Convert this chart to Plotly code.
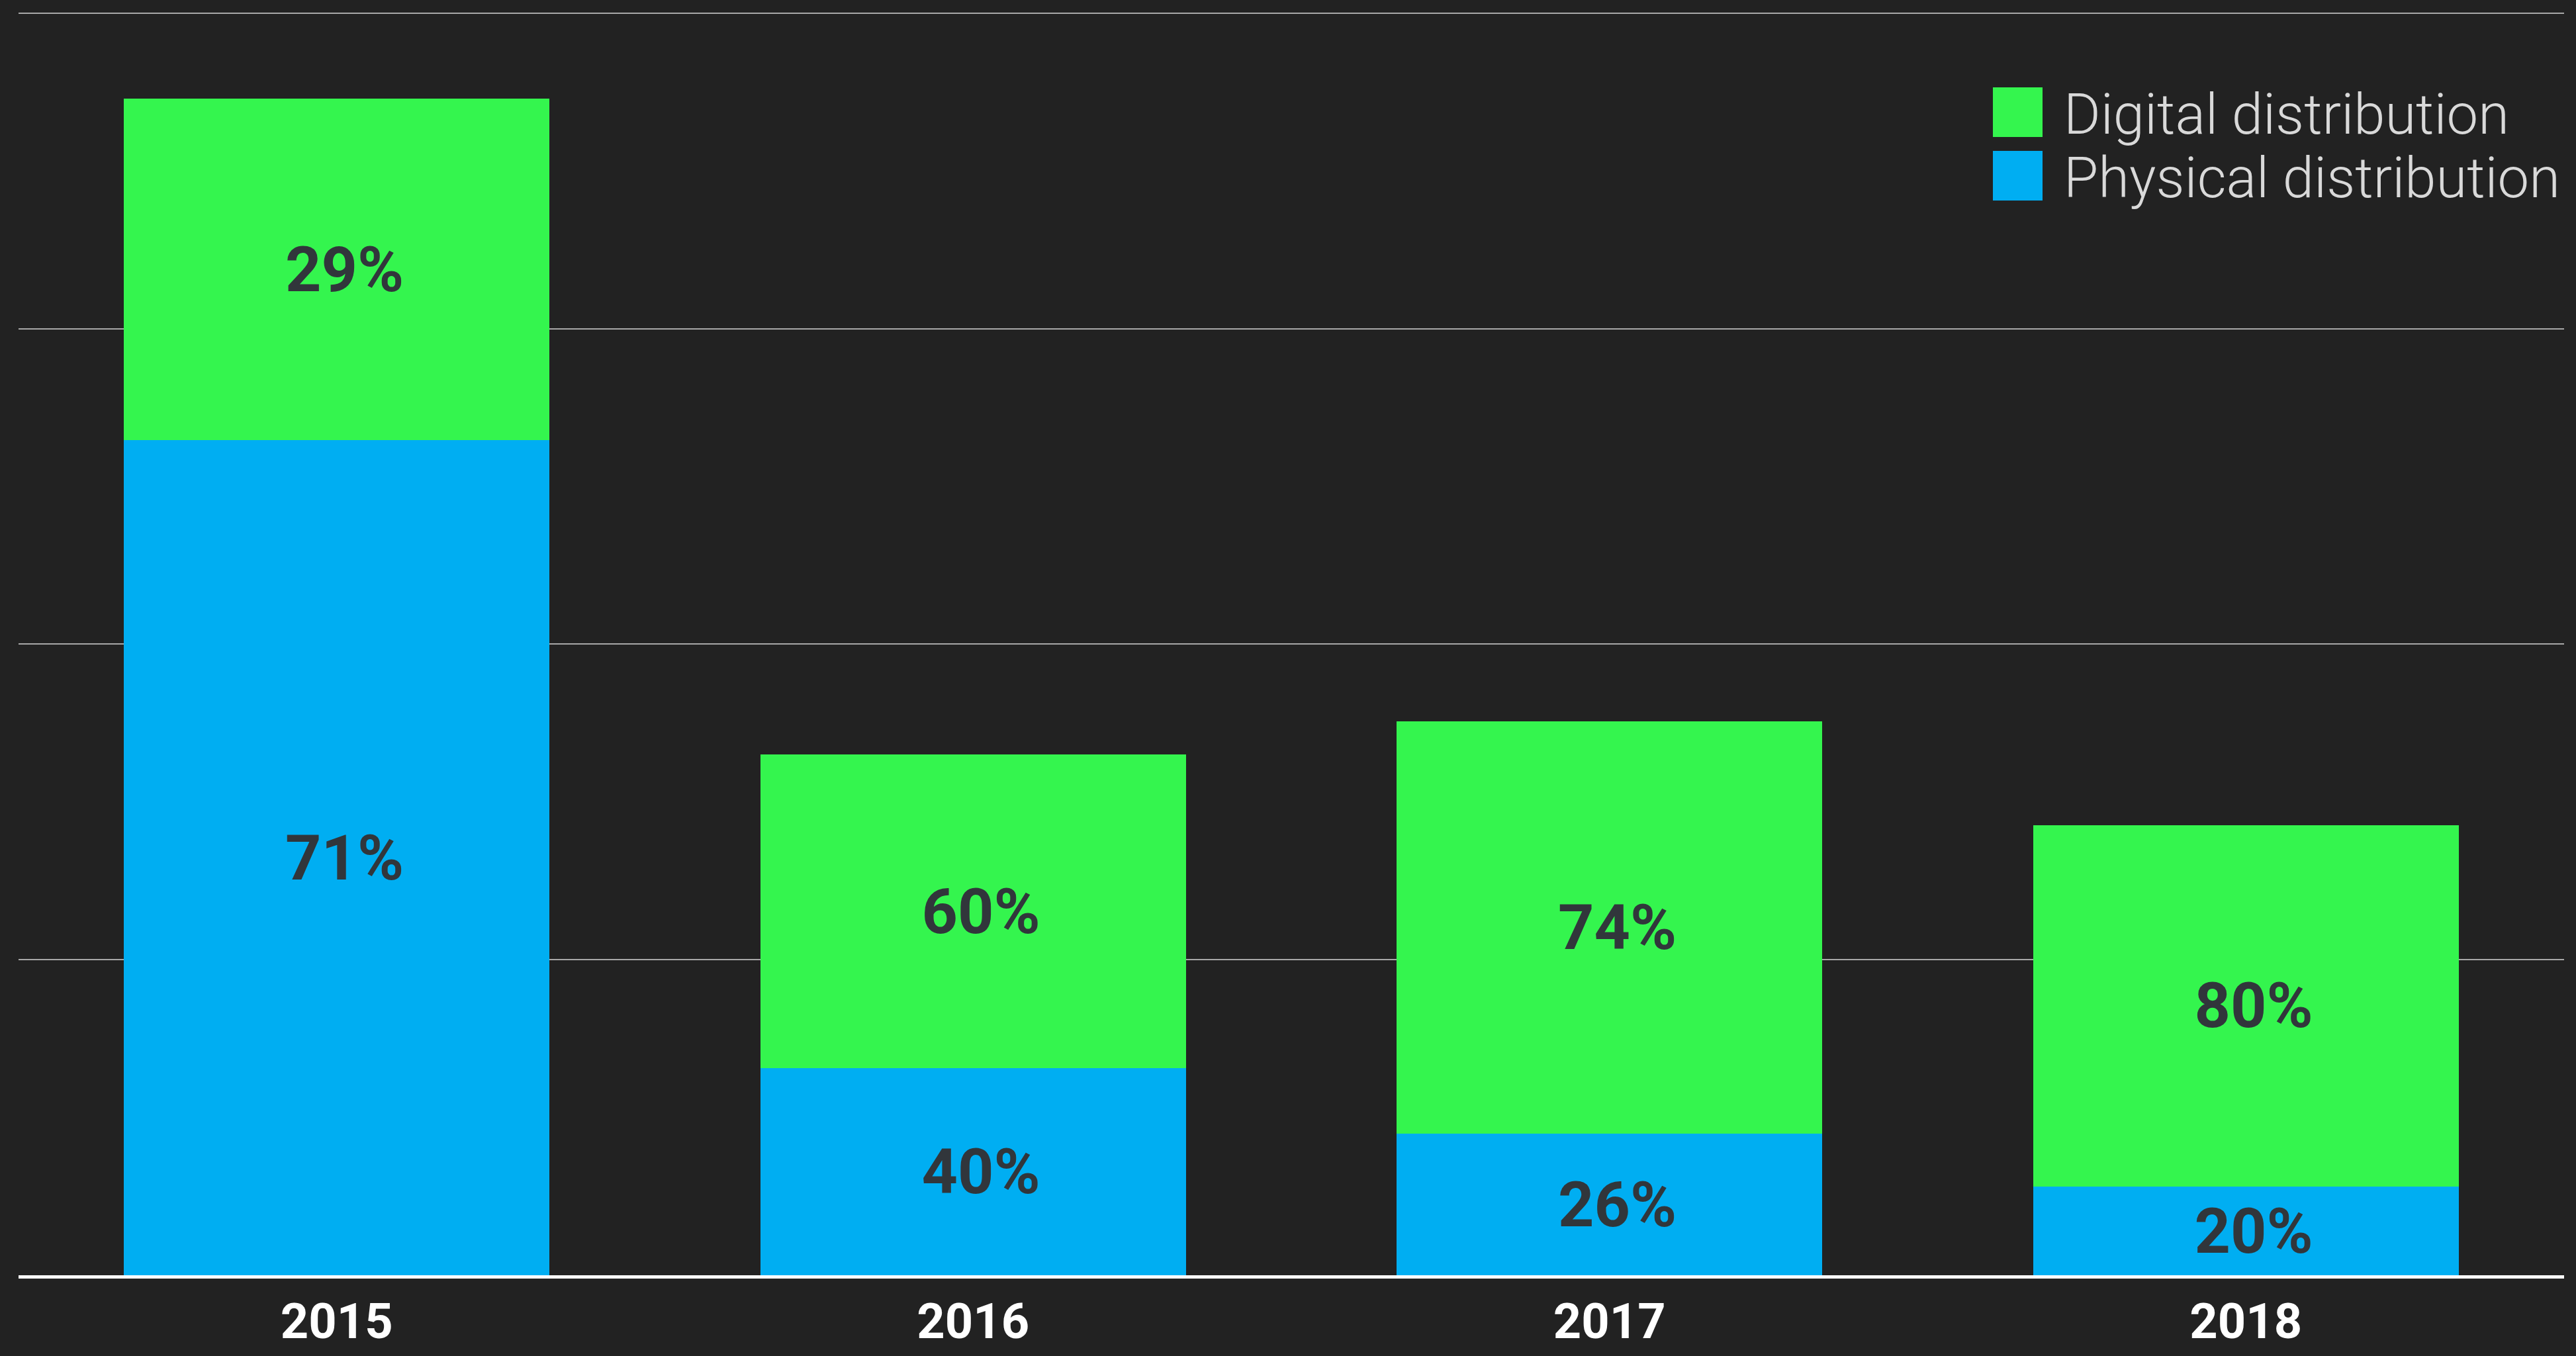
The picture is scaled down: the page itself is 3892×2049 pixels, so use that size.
import plotly.graph_objects as go

years = ["2015", "2016", "2017", "2018"]
physical_values = [2.646, 0.656, 0.448, 0.281]
digital_values = [1.083, 0.995, 1.307, 1.146]
physical_labels = ["71%", "40%", "26%", "20%"]
digital_labels = ["29%", "60%", "74%", "80%"]
legend_names = ["Digital distribution", "Physical distribution"]

BG = "#222222"
GREEN = "#34F54E"
BLUE = "#00AEF2"
LABEL = "#31363B"
NBSP = "\u00a0"

fig = go.Figure()
fig.add_trace(go.Bar(
    x=years, y=physical_values, name=legend_names[1],
    marker=dict(color=BLUE, line=dict(width=0)),
    text=[NBSP + t for t in physical_labels], textposition="inside",
    insidetextanchor="middle", constraintext="none",
    textfont=dict(family="Roboto", size=95, color=LABEL, weight=700),
))
fig.add_trace(go.Bar(
    x=years, y=digital_values, name=legend_names[0],
    marker=dict(color=GREEN, line=dict(width=0)),
    text=[NBSP + t for t in digital_labels], textposition="inside",
    insidetextanchor="middle", constraintext="none",
    textfont=dict(family="Roboto", size=95, color=LABEL, weight=700),
))

W, H = 3892, 2049
ml, mr, mt, mb = 28, 18, 18, 122

def px_to_paper_x(px):
    return (px - ml) / (W - ml - mr)

def px_to_paper_y(py):
    return ((H - mb) - py) / (H - mt - mb)

shapes = []
annotations = []
legend_items = [(legend_names[0], GREEN, 132), (legend_names[1], BLUE, 228)]
for name, col, top in legend_items:
    shapes.append(dict(
        type="rect", xref="paper", yref="paper",
        x0=px_to_paper_x(3011), x1=px_to_paper_x(3086),
        y0=px_to_paper_y(top + 75), y1=px_to_paper_y(top),
        fillcolor=col, line=dict(width=0), layer="above",
    ))
    annotations.append(dict(
        xref="paper", yref="paper",
        x=px_to_paper_x(3116), y=px_to_paper_y(top + 37 + 4),
        xanchor="left", yanchor="middle", showarrow=False,
        text=name,
        font=dict(family="Roboto", size=85, color="#D9D9D9", weight=300),
    ))

fig.update_layout(
    width=W, height=H,
    margin=dict(l=ml, r=mr, t=mt, b=mb, autoexpand=False),
    paper_bgcolor=BG, plot_bgcolor=BG,
    barmode="stack", bargap=0.331,
    showlegend=False,
    shapes=shapes, annotations=annotations,
    xaxis=dict(
        showgrid=False, zeroline=False, automargin=False,
        showline=True, linecolor="#FFFFFF", linewidth=5,
        ticks="", ticklabelstandoff=1,
        tickfont=dict(family="Roboto", size=74, color="#FFFFFF", weight=700),
    ),
    yaxis=dict(
        range=[0, 4.004], dtick=1, tick0=0, automargin=False,
        showticklabels=False, zeroline=False,
        showgrid=True, gridcolor="#A8A8A8", gridwidth=2,
    ),
)

fig.write_html(
    "out.html",
    config={"displayModeBar": False},
    post_script="document.body.style.margin='0';document.body.style.overflow='hidden';document.body.style.background='#222222';",
)
